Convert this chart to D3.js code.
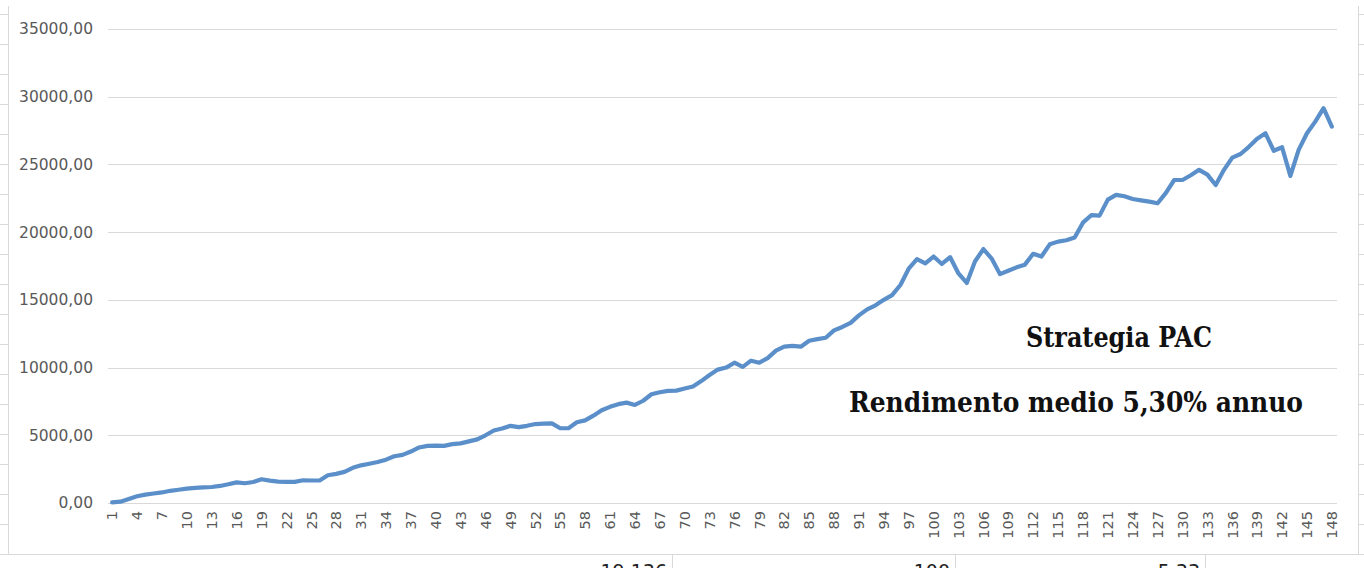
<!DOCTYPE html>
<html><head><meta charset="utf-8">
<script src="https://cdn.jsdelivr.net/npm/d3@7"></script>
<style>
html,body{margin:0;padding:0;background:#fff;overflow:hidden}
svg{display:block}
</style></head>
<body>
<svg id="chart" width="1364" height="568"></svg>
<script>
// ---- data ----
const categories = d3.range(1, 149);
const values = [
  50,100,300,500,620,700,780,900,980,1060,
  1120,1150,1180,1260,1380,1520,1460,1550,1750,1650,
  1580,1560,1560,1680,1660,1660,2050,2150,2300,2600,
  2780,2900,3030,3200,3450,3550,3800,4100,4220,4230,
  4220,4350,4400,4550,4700,5000,5350,5500,5700,5600,
  5700,5830,5860,5880,5520,5520,5960,6100,6450,6850,
  7100,7300,7410,7240,7550,8030,8180,8280,8300,8450,
  8600,9000,9450,9850,10000,10360,10050,10510,10360,10700,
  11250,11550,11600,11540,11980,12100,12200,12750,13000,13300,
  13850,14300,14600,15000,15350,16100,17300,18000,17700,18200,
  17650,18150,16950,16250,17850,18750,18050,16900,17150,17400,
  17600,18400,18200,19100,19300,19400,19600,20700,21250,21220,
  22400,22750,22650,22450,22350,22250,22130,22900,23850,23850,
  24200,24600,24250,23480,24600,25500,25770,26300,26900,27300,
  26010,26270,24150,26070,27300,28160,29150,27800
];
const yTicks = [0,5000,10000,15000,20000,25000,30000,35000];
const xTickLabels = categories.filter((d,i) => i % 3 === 0);
const annotations = ["Strategia PAC", "Rendimento medio 5,30% annuo"];
const belowCells = ["19.136", "100", "5,33"];

// ---- layout ----
const svg = d3.select("#chart");
const pLeft = 108, pRight = 1336, pTop = 29, pBottom = 503;

const x = d3.scaleBand().domain(categories).range([pLeft, pRight]).paddingInner(0).paddingOuter(0);
const y = d3.scaleLinear().domain([0, 35000]).range([pBottom, pTop]);
const loc = d3.formatLocale({decimal: ",", thousands: "", grouping: [3], currency: ["", ""]});
const fmt = loc.format(".2f");

// spreadsheet frame artefacts
const frame = svg.append("g").attr("stroke", "#d9d9d9").attr("fill", "none");
frame.append("line").attr("x1", 8.5).attr("x2", 8.5).attr("y1", 6).attr("y2", 555);
frame.append("line").attr("x1", 1358.5).attr("x2", 1358.5).attr("y1", 6).attr("y2", 555);
frame.append("line").attr("x1", 0).attr("x2", 1364).attr("y1", 554.5).attr("y2", 554.5);
const rowLines = d3.range(14, 556, 30);
frame.selectAll(".rl").data(rowLines).join("line")
  .attr("x1", 0).attr("x2", 8).attr("y1", d => d + 0.5).attr("y2", d => d + 0.5);
frame.selectAll(".rr").data(rowLines).join("line")
  .attr("x1", 1359).attr("x2", 1364).attr("y1", d => d + 0.5).attr("y2", d => d + 0.5);
const cellBorders = [672, 955, 1205];
frame.selectAll(".cb").data(cellBorders).join("line")
  .attr("x1", d => d + 0.5).attr("x2", d => d + 0.5).attr("y1", 555).attr("y2", 568);
svg.append("g").selectAll("text").data(belowCells).join("text")
  .attr("x", (d, i) => cellBorders[i] - 5).attr("y", 578)
  .attr("text-anchor", "end").attr("font-family", "DejaVu Sans, sans-serif")
  .attr("font-size", 19).attr("fill", "#222").text(d => d);

// gridlines + y axis
const yAxis = d3.axisLeft(y).tickValues(yTicks).tickFormat(fmt).tickSize(0).tickPadding(15);
const gy = svg.append("g").attr("transform", `translate(${pLeft},0)`).call(yAxis);
gy.select(".domain").remove();
gy.selectAll("text").attr("font-family", "DejaVu Sans, sans-serif").attr("font-size", 15.5).attr("fill", "#595959");
svg.append("g").selectAll("line").data(yTicks).join("line")
  .attr("x1", pLeft).attr("x2", pRight + 1)
  .attr("y1", d => Math.round(y(d)) + 0.5).attr("y2", d => Math.round(y(d)) + 0.5)
  .attr("stroke", "#d9d9d9").attr("stroke-width", 1);

// x axis
const xAxis = d3.axisBottom(x).tickValues(xTickLabels).tickSize(0).tickPadding(0);
const gx = svg.append("g").attr("transform", `translate(0,${pBottom})`).call(xAxis);
gx.select(".domain").remove();
gx.selectAll("text")
  .attr("font-family", "DejaVu Sans, sans-serif").attr("font-size", 14.5).attr("fill", "#595959")
  .attr("text-anchor", "end")
  .attr("transform", "translate(0,8) rotate(-90)")
  .attr("x", 0).attr("y", 0).attr("dy", "0.36em");

// line
const line = d3.line().x((d, i) => x(categories[i]) + x.bandwidth() / 2).y(d => y(d));
svg.append("path").datum(values).attr("d", line)
  .attr("fill", "none").attr("stroke", "#5b8fc9").attr("stroke-width", 4.2)
  .attr("stroke-linejoin", "round").attr("stroke-linecap", "round");

// annotations
const ann = [{t: annotations[0], cx: 1119, y: 347, w: 186}, {t: annotations[1], cx: 1076, y: 412, w: 454}];
svg.append("g").selectAll("text").data(ann).join("text")
  .attr("x", d => d.cx).attr("y", d => d.y).attr("text-anchor", "middle")
  .attr("font-family", "DejaVu Serif, serif").attr("font-weight", "bold").attr("font-size", 27)
  .attr("textLength", d => d.w).attr("lengthAdjust", "spacingAndGlyphs")
  .attr("fill", "#111").text(d => d.t);
</script>
</body></html>
